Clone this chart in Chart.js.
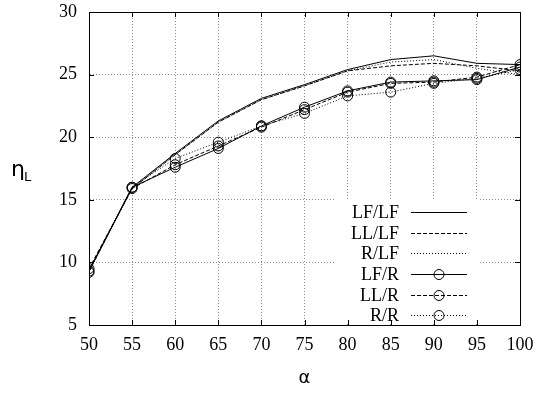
<!DOCTYPE html>
<html>
<head>
<meta charset="utf-8">
<script src="https://cdn.jsdelivr.net/npm/chart.js@4/dist/chart.umd.min.js"></script>
<style>
  html, body { margin: 0; padding: 0; background: #fff; }
  #wrap { width: 537px; height: 393px; }
</style>
</head>
<body>
<div id="wrap"><canvas id="myChart" width="537" height="393"></canvas></div>
<script>
const ALPHA = [50, 55, 60, 65, 70, 75, 80, 85, 90, 95, 100];

const LF_LF = [9.3, 16.0, 18.7, 21.3, 23.1, 24.2, 25.4, 26.2, 26.5, 25.9, 25.8];
const LL_LF = [9.4, 15.9, 18.6, 21.2, 23.0, 24.1, 25.3, 25.7, 25.9, 25.7, 25.3];
const R_LF  = [9.3, 15.9, 18.6, 21.2, 23.0, 24.1, 25.3, 26.0, 26.2, 25.5, 25.0];
const LF_R  = [9.3, 16.0, 17.6, 19.1, 20.9, 22.4, 23.7, 24.4, 24.5, 24.6, 25.6];
const LL_R  = [9.5, 15.9, 17.8, 19.3, 20.8, 22.2, 23.6, 24.3, 24.4, 24.8, 25.8];
const R_R   = [9.2, 16.0, 18.3, 19.6, 20.9, 21.9, 23.3, 23.6, 24.3, 24.7, 25.4];

const X_TICKS = [50, 55, 60, 65, 70, 75, 80, 85, 90, 95, 100];
const Y_TICKS = [5, 10, 15, 20, 25, 30];

const FONT = 'Liberation Serif';
const SOLID = [];
const DASHED = [4, 2];
const DOTTED = [1, 2];

function pts(vals) {
  return ALPHA.map((a, i) => ({ x: a, y: vals[i] }));
}

function series(label, vals, dash, marker) {
  return {
    label: label,
    data: pts(vals),
    borderColor: '#000',
    borderWidth: 1,
    borderDash: dash,
    pointRadius: marker ? 5 : 0,
    pointStyle: 'circle',
    pointBorderColor: '#000',
    pointBackgroundColor: 'rgba(0,0,0,0)',
    pointBorderWidth: 1,
    tension: 0,
    fill: false
  };
}

const ctx = document.getElementById('myChart');

const frame = {
  id: 'frame',
  beforeDatasetsDraw(chart) {
    const a = chart.chartArea;
    const c = chart.ctx;
    // opaque key area
    c.save();
    c.fillStyle = '#fff';
    c.fillRect(a.right - 185, a.bottom - 126, 145, 125);
    c.restore();
  },
  afterDraw(chart) {
    const a = chart.chartArea;
    const c = chart.ctx;
    const xs = chart.scales.x, ys = chart.scales.y;
    c.save();
    // inward ticks on all four sides
    c.strokeStyle = '#000';
    c.lineWidth = 1;
    c.setLineDash([]);
    c.beginPath();
    X_TICKS.forEach(v => {
      const px = Math.round(xs.getPixelForValue(v)) + 0.5;
      c.moveTo(px, a.bottom); c.lineTo(px, a.bottom - 5);
      c.moveTo(px, a.top); c.lineTo(px, a.top + 5);
    });
    Y_TICKS.forEach(v => {
      const py = Math.round(ys.getPixelForValue(v)) + 0.5;
      c.moveTo(a.left, py); c.lineTo(a.left + 5, py);
      c.moveTo(a.right, py); c.lineTo(a.right - 5, py);
    });
    c.stroke();
    // frame
    c.strokeRect(Math.round(a.left) + 0.5, Math.round(a.top) + 0.5,
                 Math.round(a.right - a.left), Math.round(a.bottom - a.top));

    // key
    c.font = '18px "' + FONT + '"';
    c.fillStyle = '#000';
    c.textAlign = 'right';
    c.textBaseline = 'middle';
    const rows = [-113, -92, -72, -51, -30, -10];
    chart.data.datasets.forEach((ds, i) => {
      const y = a.bottom + rows[i];
      c.fillText(ds.label, a.right - 121, y + 1);
      c.setLineDash(ds.borderDash);
      c.beginPath();
      c.moveTo(a.right - 109, Math.round(y) + 0.5);
      c.lineTo(a.right - 53, Math.round(y) + 0.5);
      c.stroke();
      if (ds.pointRadius > 0) {
        c.setLineDash([]);
        c.beginPath();
        c.arc(a.right - 81, Math.round(y) + 0.5, 5, 0, Math.PI * 2);
        c.stroke();
      }
    });
    c.setLineDash([]);

    // y axis label
    c.textAlign = 'left';
    c.textBaseline = 'alphabetic';
    c.font = '22px "DejaVu Sans"';
    c.fillText('η', 11, 176);
    c.font = '13px "DejaVu Sans"';
    c.fillText('L', 24, 181);
    c.restore();
  }
};

window.myChart = new Chart(ctx, {
  type: 'line',
  data: {
    datasets: [
      series('LF/LF', LF_LF, SOLID, false),
      series('LL/LF', LL_LF, DASHED, false),
      series('R/LF', R_LF, DOTTED, false),
      series('LF/R', LF_R, SOLID, true),
      series('LL/R', LL_R, DASHED, true),
      series('R/R', R_R, DOTTED, true)
    ]
  },
  options: {
    responsive: false,
    animation: false,
    layout: { padding: { left: 0, right: 17, top: 12, bottom: 0 } },
    plugins: {
      legend: { display: false },
      tooltip: { enabled: false },
      title: { display: false }
    },
    scales: {
      x: {
        type: 'linear',
        min: 50,
        max: 100,
        afterBuildTicks: s => { s.ticks = X_TICKS.map(v => ({ value: v })); },
        afterFit: s => { s.height = 68; s.paddingLeft = 0; s.paddingRight = 0; },
        border: { display: true, color: '#000', dash: DOTTED },
        grid: { color: '#8a8a8a', drawTicks: false },
        ticks: { color: '#000', font: { family: FONT, size: 18 }, padding: 9, maxRotation: 0 },
        title: { display: true, text: 'α', color: '#000', font: { family: 'DejaVu Sans', size: 18 }, padding: { top: 8 } }
      },
      y: {
        type: 'linear',
        min: 5,
        max: 30,
        afterBuildTicks: s => { s.ticks = Y_TICKS.map(v => ({ value: v })); },
        afterFit: s => { s.width = 89; s.paddingTop = 0; s.paddingBottom = 0; },
        border: { display: true, color: '#000', dash: DOTTED },
        grid: { color: '#8a8a8a', drawTicks: false },
        ticks: { color: '#000', font: { family: FONT, size: 18 }, padding: 12 }
      }
    }
  },
  plugins: [frame]
});
</script>
</body>
</html>
